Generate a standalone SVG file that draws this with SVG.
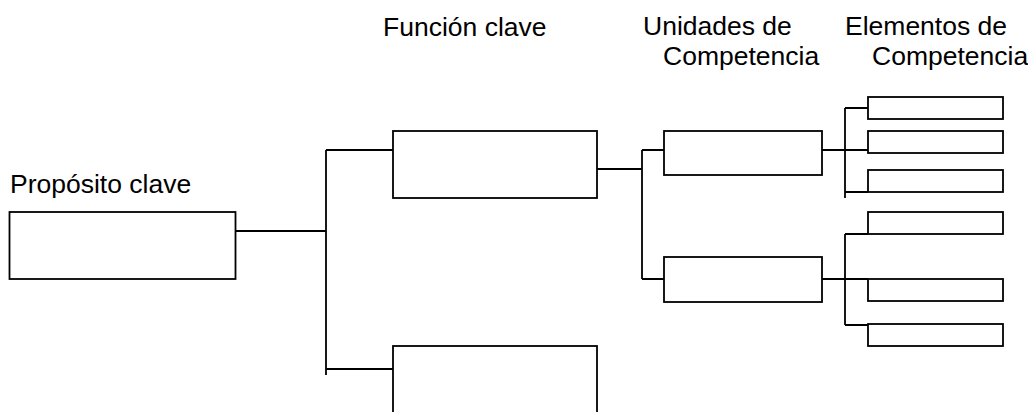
<svg xmlns="http://www.w3.org/2000/svg" width="1028" height="412" viewBox="0 0 1028 412">
<style>
.box{fill:#fff;stroke:#000;stroke-width:1.8}
.ln{fill:none;stroke:#000;stroke-width:1.8}
.t{font-family:"Liberation Sans",Arial,sans-serif;font-size:26.5px;fill:#000}
</style>
<rect width="1028" height="412" fill="#fff"/>
<g id="labels">
<text class="t" x="10" y="193">Propósito clave</text>
<text class="t" x="383" y="36">Función clave</text>
<text class="t" x="643" y="35">Unidades de</text>
<text class="t" x="663" y="65">Competencia</text>
<text class="t" x="845" y="35">Elementos de</text>
<text class="t" x="872" y="65">Competencia</text>
</g>
<g id="connectors">
<path class="ln" d="M236,231H326M326,150V375M326,150H393M326,369H393"/>
<path class="ln" d="M597,169H642M642,150V279M642,150H664M642,279H664"/>
<path class="ln" d="M822,150H868M845,108V198M845,108H868M845,192H868"/>
<path class="ln" d="M822,279H868M845,234V325M845,234H868M845,325H868"/>
</g>
<g id="proposito"><rect class="box" x="9.5" y="212" width="226" height="67"/></g>
<g id="funcion1"><rect class="box" x="393" y="131" width="204" height="67"/></g>
<g id="funcion2"><rect class="box" x="393" y="346" width="204" height="80"/></g>
<g id="unidad1"><rect class="box" x="664" y="131" width="158" height="44"/></g>
<g id="unidad2"><rect class="box" x="664" y="257" width="158" height="45"/></g>
<g id="elemento1"><rect class="box" x="868" y="97" width="135" height="22"/></g>
<g id="elemento2"><rect class="box" x="868" y="131" width="135" height="22"/></g>
<g id="elemento3"><rect class="box" x="868" y="170" width="135" height="22"/></g>
<g id="elemento4"><rect class="box" x="868" y="212" width="135" height="22"/></g>
<g id="elemento5"><rect class="box" x="868" y="279" width="135" height="22"/></g>
<g id="elemento6"><rect class="box" x="868" y="324" width="135" height="22"/></g>
</svg>
